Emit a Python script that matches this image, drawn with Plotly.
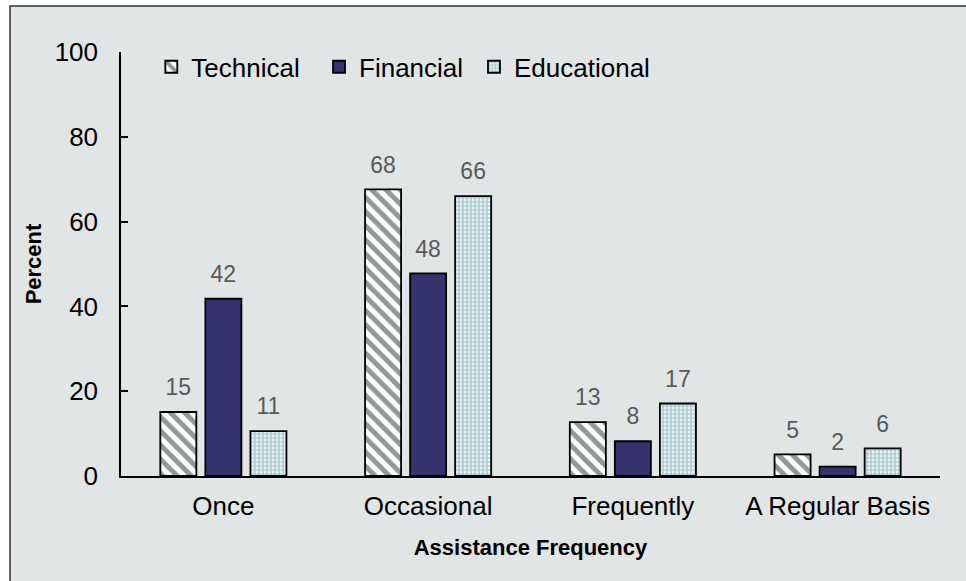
import plotly.graph_objects as go

categories = ["Once", "Occasional", "Frequently", "A Regular Basis"]
technical = [15.1, 67.6, 12.7, 5.1]
financial = [41.8, 47.8, 8.2, 2.2]
educational = [10.6, 66.0, 17.1, 6.5]
series_names = ["Technical", "Financial", "Educational"]

BG = "#e1e5e6"
FONT = "Arial, Liberation Sans, sans-serif"
LABEL_COLOR = "#595959"

markers = [
    dict(color="white", line=dict(color="black", width=1.8),
         pattern=dict(shape="\\", fgcolor="#263234", bgcolor="white",
                      size=10, solidity=0.5, fillmode="overlay")),
    dict(color="#35336e", line=dict(color="black", width=1.8)),
    dict(color="white", line=dict(color="black", width=1.8),
         pattern=dict(shape=".", fgcolor="#5d9aa3", bgcolor="white",
                      size=4, solidity=0.7, fillmode="overlay")),
]
values = [technical, financial, educational]
legend_ids = ["legend", "legend2", "legend3"]
legend_x = [0.037, 0.2418, 0.431]

fig = go.Figure()
for name, vals, mk, lg in zip(series_names, values, markers, legend_ids):
    fig.add_trace(go.Bar(name=name, x=categories, y=vals, marker=mk, legend=lg,
                         hoverinfo="x+y+name"))
# value labels, grouped like the bars
for name, vals in zip(series_names, values):
    fig.add_trace(go.Scatter(
        x=categories, y=vals, mode="markers+text", name=name + " label",
        text=[f"{v:.0f}" for v in vals], textposition="top center",
        textfont=dict(color=LABEL_COLOR, size=23, family=FONT),
        marker=dict(size=16, color="rgba(0,0,0,0)"),
        showlegend=False, hoverinfo="skip", cliponaxis=False,
    ))

legend_style = dict(orientation="h", y=0.965, xanchor="left", yanchor="middle",
                    font=dict(size=26, family=FONT), bgcolor="rgba(0,0,0,0)")

fig.update_layout(
    width=966, height=581,
    margin=dict(l=121, r=26, t=52, b=105),
    paper_bgcolor="white",
    plot_bgcolor="rgba(0,0,0,0)",
    font=dict(family=FONT, size=26, color="black"),
    barmode="group", bargap=0.34, bargroupgap=0.2,
    scattermode="group", scattergap=0.34,
    showlegend=True,
    legend=dict(x=legend_x[0], **legend_style),
    legend2=dict(x=legend_x[1], **legend_style),
    legend3=dict(x=legend_x[2], **legend_style),
    xaxis=dict(showline=True, linecolor="black", linewidth=1.5, ticks="",
               ticklabelstandoff=6,
               title=dict(text="<b>Assistance Frequency</b>", font=dict(size=22), standoff=20),
               tickfont=dict(size=26)),
    yaxis=dict(range=[0, 100], dtick=20, showline=True, linecolor="black", linewidth=1.5,
               ticks="inside", ticklen=7, tickcolor="black", tickwidth=1.5,
               showgrid=False, zeroline=False, ticklabelstandoff=16,
               title=dict(text="<b>Percent</b>", font=dict(size=22), standoff=7),
               tickfont=dict(size=26)),
    shapes=[dict(type="rect", xref="paper", yref="paper",
                 x0=(10 - 121) / 819, y0=-0.6,
                 x1=1.2, y1=1 + (52 - 6) / 424,
                 fillcolor=BG, line=dict(color="#333333", width=1.5),
                 layer="below")],
)

fig.write_html("out.html", config={"displayModeBar": False},
               post_script="document.body.style.margin='0';document.body.style.overflow='hidden';")
